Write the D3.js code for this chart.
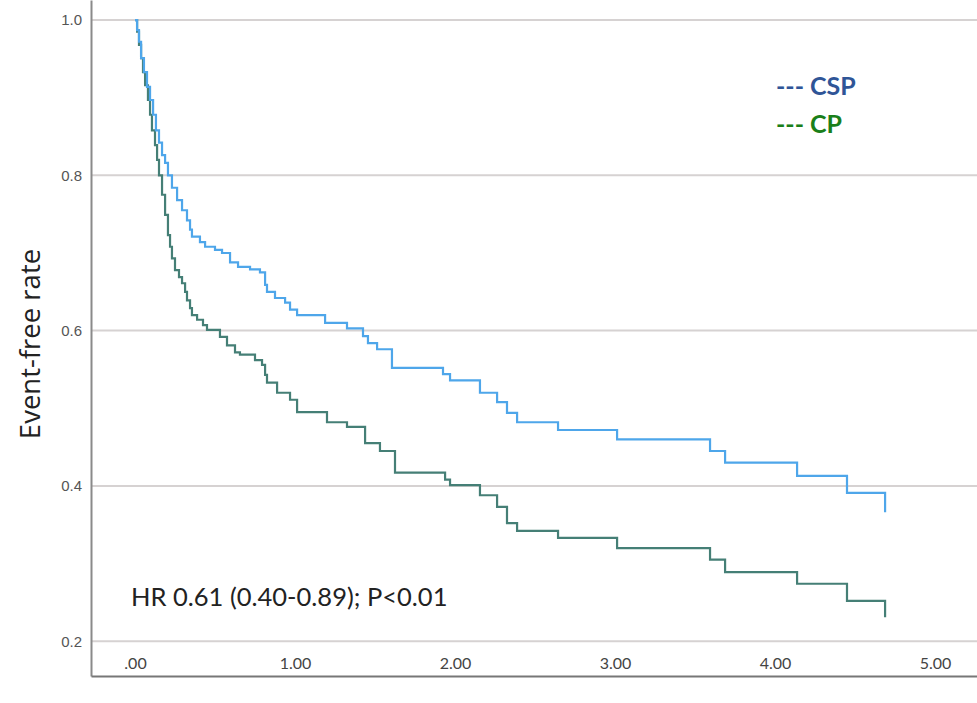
<!DOCTYPE html>
<html>
<head>
<meta charset="utf-8">
<script src="https://cdn.jsdelivr.net/npm/d3@7"></script>
<style>
  html, body { margin: 0; padding: 0; background: #fff; }
  svg { display: block; }
</style>
</head>
<body>
<svg id="chart" width="977" height="703"></svg>
<script>
// ---- Data ----
const seriesNames = ["CSP", "CP"];

const cspTimes = [0, 0.013, 0.025, 0.038, 0.056, 0.075, 0.094, 0.113, 0.131, 0.15, 0.169, 0.188, 0.206, 0.231, 0.263, 0.294, 0.325, 0.344, 0.356, 0.406, 0.438, 0.5, 0.544, 0.594, 0.644, 0.719, 0.781, 0.813, 0.825, 0.875, 0.938, 0.969, 1.013, 1.188, 1.325, 1.425, 1.456, 1.513, 1.606, 1.925, 1.969, 2.156, 2.263, 2.325, 2.388, 2.644, 3.013, 3.594, 3.688, 4.138, 4.45, 4.688];
const cspValues = [1.0, 0.987, 0.972, 0.951, 0.933, 0.914, 0.897, 0.878, 0.858, 0.842, 0.826, 0.816, 0.800, 0.784, 0.768, 0.755, 0.742, 0.730, 0.721, 0.714, 0.708, 0.704, 0.700, 0.688, 0.682, 0.679, 0.675, 0.659, 0.650, 0.642, 0.636, 0.627, 0.620, 0.610, 0.603, 0.593, 0.584, 0.576, 0.552, 0.544, 0.536, 0.520, 0.508, 0.494, 0.482, 0.472, 0.460, 0.445, 0.430, 0.413, 0.391, 0.366];

const cpTimes = [0, 0.013, 0.025, 0.038, 0.05, 0.063, 0.081, 0.094, 0.106, 0.125, 0.138, 0.15, 0.169, 0.188, 0.206, 0.219, 0.231, 0.25, 0.275, 0.294, 0.313, 0.325, 0.344, 0.356, 0.388, 0.425, 0.45, 0.531, 0.575, 0.625, 0.656, 0.75, 0.794, 0.813, 0.825, 0.888, 0.969, 1.013, 1.2, 1.325, 1.438, 1.531, 1.625, 1.938, 1.969, 2.156, 2.263, 2.325, 2.388, 2.644, 3.013, 3.594, 3.688, 4.138, 4.45, 4.688];
const cpValues = [1.0, 0.985, 0.968, 0.951, 0.933, 0.916, 0.897, 0.878, 0.858, 0.839, 0.820, 0.800, 0.775, 0.749, 0.723, 0.708, 0.693, 0.678, 0.669, 0.661, 0.650, 0.639, 0.629, 0.620, 0.614, 0.607, 0.601, 0.592, 0.581, 0.572, 0.569, 0.562, 0.556, 0.543, 0.533, 0.520, 0.511, 0.495, 0.482, 0.476, 0.455, 0.445, 0.417, 0.408, 0.401, 0.388, 0.373, 0.352, 0.342, 0.333, 0.320, 0.305, 0.289, 0.274, 0.252, 0.231];

const xTickValues = [0, 1, 2, 3, 4, 5];
const xTickLabels = [".00", "1.00", "2.00", "3.00", "4.00", "5.00"];
const yTickValues = [0.2, 0.4, 0.6, 0.8, 1.0];
const yTickLabels = ["0.2", "0.4", "0.6", "0.8", "1.0"];

const yAxisTitle = "Event-free rate";
const annotationText = "HR 0.61 (0.40-0.89); P<0.01";

// ---- Layout ----
const plotLeft = 91, plotRight = 977, plotTop = 0, plotBottom = 676;

const svg = d3.select("#chart");

const x = d3.scaleLinear().domain([-0.275, 5.2625]).range([plotLeft, plotRight]);
const y = d3.scaleLinear().domain([0.1552, 1.0258]).range([plotBottom, plotTop]);

// gridlines
svg.append("g")
  .selectAll("line")
  .data(yTickValues)
  .join("line")
  .attr("x1", plotLeft)
  .attr("x2", plotRight)
  .attr("y1", d => y(d))
  .attr("y2", d => y(d))
  .attr("stroke", "#d6d2d2")
  .attr("stroke-width", 2);

// Y axis
const yAxis = d3.axisLeft(y)
  .tickValues(yTickValues)
  .tickFormat((d, i) => yTickLabels[i])
  .tickSize(0)
  .tickPadding(9);
const gy = svg.append("g").attr("transform", `translate(${plotLeft},0)`).call(yAxis);
gy.select(".domain").attr("stroke", "#8a8a8a").attr("stroke-width", 2);
gy.selectAll("text")
  .attr("font-family", "'Liberation Sans', Arial, sans-serif")
  .attr("font-size", 15)
  .attr("fill", "#555");

// X axis
const xAxis = d3.axisBottom(x)
  .tickValues(xTickValues)
  .tickFormat((d, i) => xTickLabels[i])
  .tickSize(0)
  .tickPadding(0);
const gx = svg.append("g").attr("transform", `translate(0,${plotBottom})`).call(xAxis);
gx.select(".domain").attr("stroke", "#777").attr("stroke-width", 2);
gx.selectAll(".tick text")
  .attr("font-family", "Lato, 'Open Sans', sans-serif")
  .attr("font-size", 16)
  .attr("fill", "#444")
  .attr("dy", null)
  .attr("y", 0)
  .attr("transform", "translate(0," + (669 - plotBottom) + ")");

// lines
const line = d3.line()
  .x(d => x(d[0]))
  .y(d => y(d[1]))
  .curve(d3.curveStepAfter);

const cspData = cspTimes.map((t, i) => [t, cspValues[i]]);
const cpData = cpTimes.map((t, i) => [t, cpValues[i]]);

svg.append("path")
  .datum(cpData)
  .attr("d", line)
  .attr("fill", "none")
  .attr("stroke", "#457f76")
  .attr("stroke-width", 2.2);

svg.append("path")
  .datum(cspData)
  .attr("d", line)
  .attr("fill", "none")
  .attr("stroke", "#4ea6ea")
  .attr("stroke-width", 2.2);

// Y axis title
svg.append("text")
  .attr("transform", `translate(40,${344}) rotate(-90)`)
  .attr("text-anchor", "middle")
  .attr("font-family", "'Open Sans', 'Liberation Sans', sans-serif")
  .attr("font-size", 27.5)
  .attr("fill", "#222")
  .text(yAxisTitle);

// legend
const legendColors = ["#2f5597", "#1a7f1a"];
svg.append("g")
  .selectAll("text")
  .data(seriesNames)
  .join("text")
  .attr("x", 776)
  .attr("y", (d, i) => 95 + i * 38)
  .attr("font-family", "Lato, 'Open Sans', sans-serif")
  .attr("font-weight", "bold")
  .attr("font-size", 25)
  .attr("fill", (d, i) => legendColors[i])
  .text(d => "--- " + d);

// annotation
svg.append("text")
  .attr("x", 131)
  .attr("y", 606)
  .attr("font-family", "Lato, 'Open Sans', sans-serif")
  .attr("font-size", 25.5)
  .attr("fill", "#222")
  .text(annotationText);
</script>
</body>
</html>
